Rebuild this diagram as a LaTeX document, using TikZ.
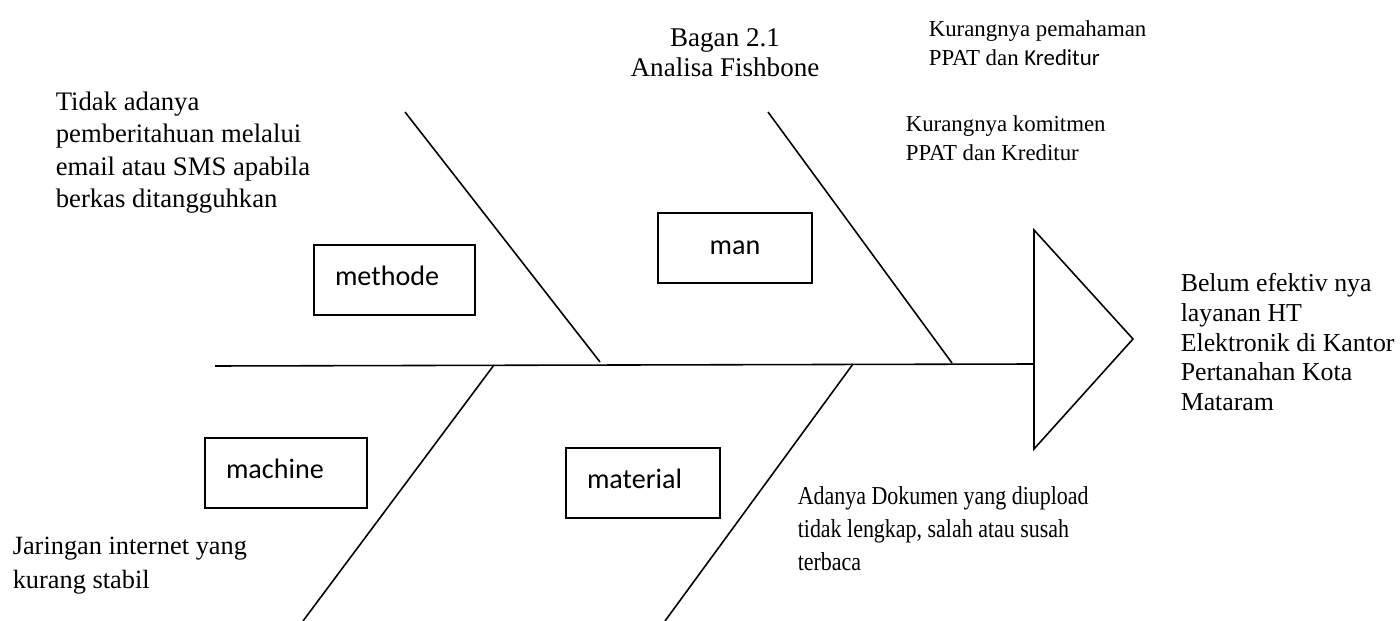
\documentclass[tikz,border=0pt]{standalone}
\usepackage{fontspec}
\setmainfont{Liberation Serif}
\setsansfont{Carlito}
\newfontfamily\narrowserif{Liberation Serif}[FakeStretch=0.85]
\usetikzlibrary{positioning}

\begin{document}
\begin{tikzpicture}[x=0.02cm, y=-0.02cm, line width=0.9pt,
        catbox/.style={draw, line width=0.9pt, font=\sffamily\fontsize{16}{19}\selectfont, inner xsep=0.42cm, inner ysep=0pt, text width=#1, text depth=0.16cm, minimum height=1.4cm, align=left},
        note/.style={anchor=north west, align=left, inner sep=0pt},
        bone/.style={line width=0.9pt}]

        \useasboundingbox (0,0) rectangle (1400,621);

        % Nodes
        \node [anchor=north, align=center, inner sep=0pt, font=\fontsize{15.4}{16.8}\selectfont] (title) at (725,28) {Bagan 2.1\\Analisa Fishbone};
        \node [catbox=2.38cm] (methode) at (394.5,280) {methode};
        \node [catbox=2.24cm, align=center, text depth=0pt] (man) at (735,248) {man};
        \node [catbox=2.40cm] (machine) at (286,473) {machine};
        \node [catbox=2.24cm] (material) at (643,483) {material};

        \node [note, font=\fontsize{15.2}{18.5}\selectfont] (notif) at (55,91) {Tidak adanya\\pemberitahuan melalui\\email atau SMS apabila\\berkas ditangguhkan};
        \node [note, font=\fontsize{13}{16.4}\selectfont] (paham) at (928,20) {Kurangnya pemahaman\\PPAT dan {\sffamily Kreditur}};
        \node [note, font=\fontsize{13}{16.2}\selectfont] (komit) at (905,115) {Kurangnya komitmen\\PPAT dan Kreditur};
        \node [note, font=\fontsize{15}{19.3}\selectfont] (jaringan) at (12,536) {Jaringan internet yang\\kurang stabil};
        \node [note, font=\narrowserif\fontsize{14.7}{18.7}\selectfont] (dokumen) at (797,486) {Adanya Dokumen yang diupload\\tidak lengkap, salah atau susah\\terbaca};
        \node [note, font=\fontsize{14.7}{16.8}\selectfont] (effect) at (1180,273) {Belum efektiv nya\\layanan HT\\Elektronik di Kantor\\Pertanahan Kota\\Mataram};

        % Head and spine
        \coordinate (tail) at (215,366);
        \coordinate (headbase) at (1034,364);
        \coordinate (headtop) at (1034,230);
        \coordinate (headbot) at (1034,449);
        \coordinate (headtip) at (1133,339);
        \draw (headtop) -- (headtip) -- (headbot) -- cycle;
        \draw [bone] (tail) -- (headbase);

        % Bones
        \coordinate (methodetop) at (405,112);
        \coordinate (methodeend) at (600,362);
        \coordinate (mantop) at (768,112);
        \coordinate (manend) at (952,363);
        \coordinate (machineend) at (494,365);
        \coordinate (machinebot) at (303,621);
        \coordinate (materialend) at (853,364);
        \coordinate (materialbot) at (665,621);
        \draw [bone] (methodetop) -- (methodeend);
        \draw [bone] (mantop) -- (manend);
        \draw [bone] (machineend) -- (machinebot);
        \draw [bone] (materialend) -- (materialbot);
\end{tikzpicture}
\end{document}
